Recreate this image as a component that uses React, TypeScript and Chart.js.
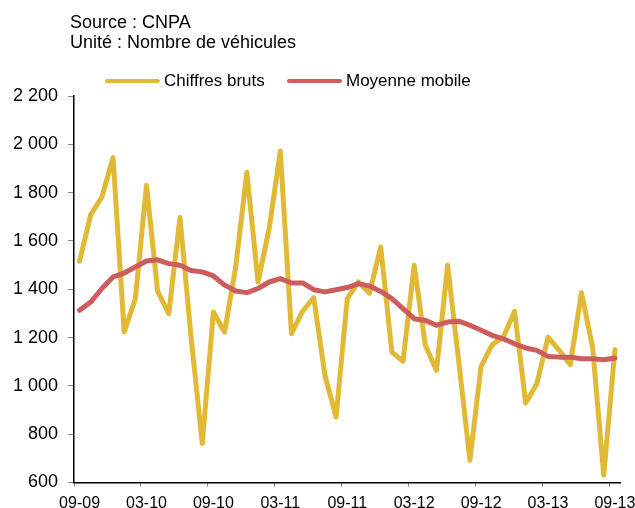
import React, { useEffect, useRef } from "react";
import { Chart, registerables } from "chart.js";

Chart.register(...registerables);

const months: string[] = [
  "09-09", "10-09", "11-09", "12-09", "01-10", "02-10", "03-10", "04-10", "05-10", "06-10", "07-10", "08-10",
  "09-10", "10-10", "11-10", "12-10", "01-11", "02-11", "03-11", "04-11", "05-11", "06-11", "07-11", "08-11",
  "09-11", "10-11", "11-11", "12-11", "01-12", "02-12", "03-12", "04-12", "05-12", "06-12", "07-12", "08-12",
  "09-12", "10-12", "11-12", "12-12", "01-13", "02-13", "03-13", "04-13", "05-13", "06-13", "07-13", "08-13",
  "09-13",
];

const chiffresBruts: number[] = [
  1516, 1709, 1782, 1945, 1223, 1361, 1830, 1391, 1299, 1697, 1200, 761,
  1306, 1223, 1492, 1884, 1430, 1651, 1972, 1216, 1309, 1365, 1044, 871,
  1361, 1430, 1384, 1575, 1140, 1102, 1499, 1168, 1064, 1499, 1100, 692,
  1081, 1171, 1202, 1309, 929, 1009, 1202, 1147, 1088, 1386, 1159, 630,
  1150,
];

const moyenneMobile: number[] = [
  1313, 1347, 1403, 1451, 1467, 1492, 1517, 1522, 1506, 1499, 1478, 1472,
  1455, 1417, 1393, 1386, 1403, 1430, 1444, 1426, 1426, 1398, 1389, 1398,
  1407, 1423, 1413, 1391, 1361, 1320, 1278, 1271, 1251, 1264, 1268, 1251,
  1230, 1209, 1195, 1174, 1157, 1147, 1122, 1119, 1119, 1112, 1112, 1108,
  1115,
];

const seriesNames: string[] = ["Chiffres bruts", "Moyenne mobile"];
const titleLines: string[] = ["Source : CNPA", "Unité : Nombre de véhicules"];
const yMin = 600;
const yMax = 2200;
const yStep = 200;
const xLabelEvery = 6;

const YELLOW = "#E1B935";
const RED = "#CD5C5C";
const FONT = "'Liberation Sans', Arial, sans-serif";

function fmt(v: number): string {
  return String(v).replace(/\B(?=(\d{3})+(?!\d))/g, " ");
}

export default function App() {
  const ref = useRef<HTMLCanvasElement | null>(null);

  useEffect(() => {
    if (!ref.current) return;
    const chart = new Chart(ref.current, {
      type: "line",
      data: {
        labels: months,
        datasets: [
          {
            label: seriesNames[0],
            data: chiffresBruts,
            borderColor: YELLOW,
            backgroundColor: YELLOW,
            borderWidth: 5,
            pointRadius: 0,
            tension: 0,
            borderJoinStyle: "round",
            borderCapStyle: "round",
            order: 1,
          },
          {
            label: seriesNames[1],
            data: moyenneMobile,
            borderColor: RED,
            backgroundColor: RED,
            borderWidth: 5,
            pointRadius: 0,
            tension: 0,
            borderJoinStyle: "round",
            borderCapStyle: "round",
            order: 0,
          },
        ],
      },
      options: {
        responsive: false,
        animation: false,
        events: [],
        layout: { padding: { top: 96, right: 14.5, left: 0, bottom: 0 } },
        plugins: {
          legend: { display: false },
          title: { display: false },
          tooltip: { enabled: false },
        },
        scales: {
          x: {
            type: "category",
            offset: true,
            afterFit: (s: any) => {
              s.height = 25.5;
              s.paddingLeft = 0;
              s.paddingRight = 0;
            },
            grid: {
              offset: true,
              drawOnChartArea: false,
              tickLength: 4,
              color: (c: any) => (c.index % xLabelEvery === 0 ? "#777777" : "rgba(0,0,0,0)"),
              tickColor: (c: any) => (c.index % xLabelEvery === 0 ? "#777777" : "rgba(0,0,0,0)"),
            },
            border: { display: true, color: "#000000", width: 1.5 },
            ticks: {
              autoSkip: false,
              maxRotation: 0,
              minRotation: 0,
              padding: 7,
              color: "#000000",
              font: { family: FONT, size: 16 },
              callback: (_v: any, i: number) => (i % xLabelEvery === 0 ? months[i] : ""),
            },
          },
          y: {
            min: yMin,
            max: yMax,
            afterFit: (s: any) => {
              s.width = 74;
            },
            grid: {
              drawOnChartArea: false,
              tickLength: 6,
              color: "#888888",
              tickColor: "#888888",
            },
            border: { display: true, color: "#000000", width: 1.5 },
            ticks: {
              stepSize: yStep,
              padding: 10,
              color: "#000000",
              font: { family: FONT, size: 18 },
              callback: (v: any) => fmt(Number(v)),
            },
          },
        },
      },
    });
    return () => chart.destroy();
  }, []);

  const textStyle: React.CSSProperties = {
    position: "absolute",
    fontFamily: FONT,
    color: "#000",
    whiteSpace: "nowrap",
    lineHeight: "20px",
  };

  return (
    <div style={{ position: "fixed", left: 0, top: 0, width: 635, height: 508, background: "#fff" }}>
      <canvas ref={ref} width={635} height={508} style={{ position: "absolute", left: 0, top: 0 }} />
      <div style={{ ...textStyle, left: 70, top: 12, fontSize: 18 }}>{titleLines[0]}</div>
      <div style={{ ...textStyle, left: 70, top: 32, fontSize: 18 }}>{titleLines[1]}</div>
      <div style={{ position: "absolute", left: 105, top: 78.5, width: 55, height: 4.5, borderRadius: 3, background: YELLOW }} />
      <div style={{ ...textStyle, left: 164, top: 70.5, fontSize: 17 }}>{seriesNames[0]}</div>
      <div style={{ position: "absolute", left: 287, top: 78.5, width: 55, height: 4.5, borderRadius: 3, background: RED }} />
      <div style={{ ...textStyle, left: 346, top: 70.5, fontSize: 17 }}>{seriesNames[1]}</div>
    </div>
  );
}
